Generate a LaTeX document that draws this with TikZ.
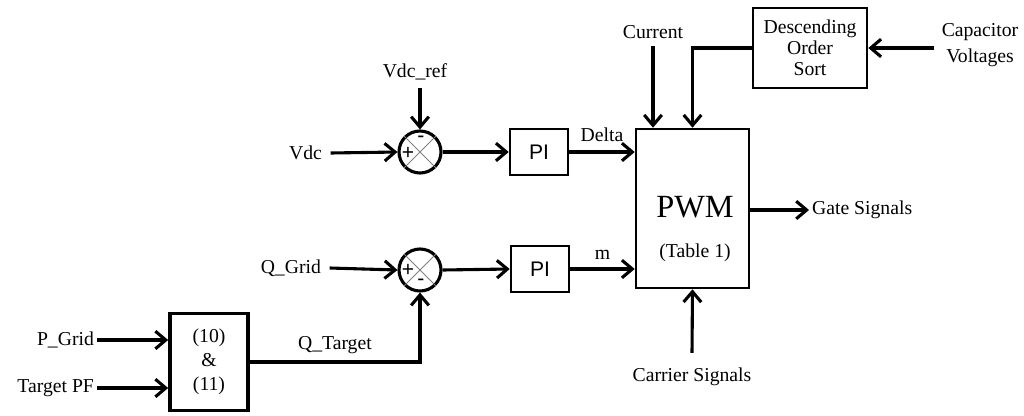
\documentclass[tikz,border=0pt]{standalone}
\usepackage{fontspec}
\setmainfont{Liberation Serif}
\newfontfamily\arialfont{Liberation Sans}
\usetikzlibrary{arrows.meta}

\begin{document}
\begin{tikzpicture}[x=0.025cm,y=-0.025cm]

\tikzstyle{blk}=[draw,line width=1.8pt,inner sep=0pt]
\tikzstyle{sumc}=[draw,circle,line width=2.2pt,minimum size=1.05cm,inner sep=0pt]
\tikzstyle{lbl}=[inner sep=2pt,font=\fontsize{14}{16}\selectfont]
\tikzstyle{sgn}=[inner sep=0pt,font=\arialfont\fontsize{15}{15}\selectfont]
\tikzstyle{sig}=[line width=2.2pt,-{Straight Barb[length=2.6mm,width=4.4mm]}]

\useasboundingbox (0,0) rectangle (1024,415);

% summing junctions
\node (s1) [sumc] at (420,152) {};
\draw[gray,line width=0.7pt] (s1.north west) -- (s1.south east) (s1.north east) -- (s1.south west);
\node (s1m) [sgn] at (421,139) {-};
\node (s1p) [sgn] at (408,153) {+};

\node (s2) [sumc] at (420,270) {};
\draw[gray,line width=0.7pt] (s2.north west) -- (s2.south east) (s2.north east) -- (s2.south west);
\node (s2p) [sgn] at (408,270) {+};
\node (s2m) [sgn] at (421,282) {-};

% blocks
\node (pi1) [blk,minimum width=1.45cm,minimum height=1.15cm,font=\arialfont\fontsize{15}{15}\selectfont] at (539,152) {PI};
\node (pi2) [blk,minimum width=1.45cm,minimum height=1.15cm,font=\arialfont\fontsize{15}{15}\selectfont] at (540,269) {PI};
\node (pwm) [blk,minimum width=2.825cm,minimum height=3.975cm] at (692.5,208.5) {};
\node (pwmtxt) [lbl,font=\fontsize{23}{23}\selectfont] at (695,207) {PWM};
\node (tbl) [lbl] at (695,253) {(Table 1)};
\node (desc) [blk,minimum width=2.85cm,minimum height=2.0cm,align=center,font=\fontsize{14}{14.9}\selectfont] at (810,48) {Descending\\Order\\Sort};
\node (eq) [blk,line width=2.6pt,minimum width=1.95cm,minimum height=2.425cm,align=center,font=\fontsize{14}{17}\selectfont] at (209,362) {(10)\\\&\\(11)};

% inputs and outputs
\node (vdc) [lbl,anchor=east] at (325,153) {Vdc};
\node (vdcref) [lbl] at (415,72) {Vdc\_ref};
\node (qgrid) [lbl,anchor=east] at (324,268) {Q\_Grid};
\node (pgrid) [lbl,anchor=east] at (97,340) {P\_Grid};
\node (tpf) [lbl,anchor=east] at (97,388) {Target PF};
\node (cur) [lbl] at (653,32) {Current};
\node (cap) [lbl,align=center,font=\fontsize{14}{18.5}\selectfont] at (980,45) {Capacitor\\Voltages};
\node (gate) [lbl,anchor=west] at (809,210) {Gate Signals};
\node (carrier) [lbl] at (692,377) {Carrier Signals};

% connections
\draw[sig] ([xshift=4pt]vdc.east) -- (s1.west);
\draw[sig] ([yshift=-3pt]vdcref.south -| s1.north) -- (s1.north);
\draw[sig] (s1.east) -- (pi1.west);
\draw[sig] (pi1.east) -- (pi1.east -| pwm.west) node[lbl,midway,above=4pt] {Delta};

\draw[sig] ([xshift=4pt]qgrid.east) -- (s2.west);
\draw[sig] (s2.east) -- (pi2.west);
\draw[sig] (pi2.east) -- (pi2.east -| pwm.west) node[lbl,midway,above=4pt] {m};

\draw[sig] (pgrid.east) -- (pgrid.east -| eq.west);
\draw[sig] (tpf.east) -- (tpf.east -| eq.west);
\draw[sig] (eq.east) -| (s2.south) node[lbl,pos=0.25,above=3pt] {Q\_Target};

\draw[sig] ([yshift=-3pt]cur.south) -- (cur.south |- pwm.north);
\draw[sig] ([xshift=-3pt]cap.west |- desc.east) -- (desc.east);
\draw[sig] (desc.west) -| (pwm.north);
\draw[sig] (gate.west -| pwm.east) -- (gate.west);
\draw[sig] ([yshift=0.3cm]carrier.north) -- (pwm.south);

\end{tikzpicture}
\end{document}
